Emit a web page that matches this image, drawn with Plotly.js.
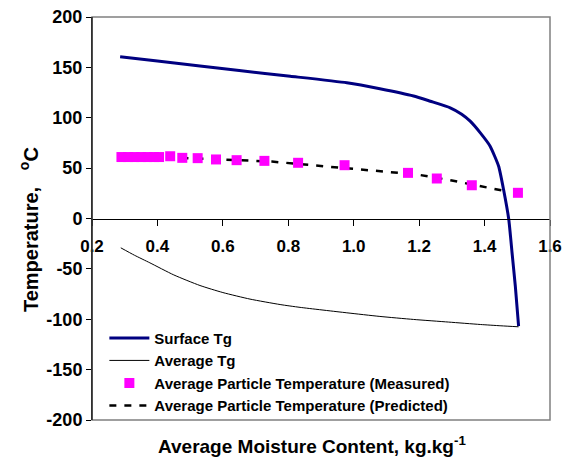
<!DOCTYPE html>
<html>
<head>
<meta charset="utf-8">
<script src="https://cdn.plot.ly/plotly-3.0.1.min.js"></script>
<style>html,body{margin:0;padding:0;background:#fff;}#chart{width:564px;height:459px;}</style>
</head>
<body>
<div id="chart"></div>
<script>
// Surface Tg
const surfX = [0.286, 0.4, 0.53, 0.65, 0.806, 0.979, 1.08, 1.183, 1.234, 1.295, 1.33, 1.356, 1.387, 1.417, 1.443, 1.458, 1.474, 1.484, 1.494, 1.504];
const surfY = [160.5, 156.3, 151.3, 146.8, 141.2, 134.7, 128.8, 121.6, 116.4, 109.9, 103.5, 96.6, 85.0, 71.8, 51.9, 28.8, -1.0, -34.0, -67.2, -106.9];
// Average Tg
const avgX = [0.288, 0.33, 0.377, 0.45, 0.53, 0.6, 0.683, 0.775, 0.836, 0.979, 1.08, 1.183, 1.29, 1.387, 1.45, 1.504];
const avgY = [-29.1, -36.5, -44, -56, -66.5, -73.5, -80.0, -85.4, -88.2, -93.6, -97.2, -100.2, -102.8, -105.2, -106.5, -107.5];
// Measured particle temperature
const measX = [0.29, 0.31, 0.33, 0.35, 0.37, 0.39, 0.405, 0.439, 0.476, 0.523, 0.579, 0.642, 0.727, 0.830, 0.972, 1.166, 1.254, 1.361, 1.502];
const measY = [61, 61, 61, 61, 61, 61, 61, 61.8, 60.2, 59.9, 58.6, 57.9, 57.2, 55.3, 52.9, 45.3, 39.7, 33.0, 25.5];
// Predicted particle temperature
const predX = [0.29, 0.428, 0.6, 0.75, 0.907, 1.05, 1.106, 1.193, 1.3, 1.387, 1.443, 1.47];
const predY = [61, 60.5, 58.5, 56.5, 51.9, 47.9, 46.0, 43.7, 37.7, 32.0, 28.1, 26.8];

const xTicks = [0.2, 0.4, 0.6, 0.8, 1.0, 1.2, 1.4, 1.6];
const xTickText = ['0.2', '0.4', '0.6', '0.8', '1.0', '1.2', '1.4', '1.6'];
const yTicks = [-200, -150, -100, -50, 0, 50, 100, 150, 200];
const yTickText = ['-200', '-150', '-100', '-50', '0', '50', '100', '150', '200'];

const F = 'Liberation Sans, Arial, sans-serif';
const dashPat = '7px,8px';

const traces = [
  {x: surfX, y: surfY, name: 'Surface Tg', mode: 'lines', line: {color: '#000080', width: 3, shape: 'spline', smoothing: 0.5}},
  {x: avgX, y: avgY, name: 'Average Tg', mode: 'lines', line: {color: '#000000', width: 1, shape: 'spline', smoothing: 0.6}},
  {x: predX, y: predY, name: 'Average Particle Temperature (Predicted)', mode: 'lines', line: {color: '#000000', width: 2.5, dash: dashPat}, showlegend: false},
  {x: measX, y: measY, name: 'Average Particle Temperature (Measured)', mode: 'markers', marker: {color: '#FF00FF', symbol: 'square', size: 10}},
  {x: [null], y: [null], name: 'Average Particle Temperature (Predicted)', mode: 'lines', line: {color: '#000000', width: 2.5, dash: dashPat}}
];

const layout = {
  width: 564, height: 459,
  margin: {l: 92, r: 14, t: 17, b: 39},
  paper_bgcolor: '#fff', plot_bgcolor: '#fff',
  font: {family: F, color: '#000'},
  showlegend: true,
  legend: {x: 0.027, y: 0.244, xanchor: 'left', yanchor: 'top', bgcolor: 'rgba(0,0,0,0)',
           font: {family: F, size: 15, color: '#000', weight: 'bold'}, tracegroupgap: 0, itemwidth: 40},
  xaxis: {
    range: [0.2, 1.6], tickvals: xTicks, ticktext: xTickText,
    anchor: 'free', position: 0.5,
    showline: true, linecolor: '#000', linewidth: 1,
    ticks: 'outside', ticklen: 6, tickcolor: '#000', ticklabelstandoff: 6,
    showgrid: false, zeroline: false,
    tickfont: {family: F, size: 17, color: '#000', weight: 'bold'}
  },
  yaxis: {
    range: [-200, 200], tickvals: yTicks, ticktext: yTickText,
    showline: true, linecolor: '#000', linewidth: 1,
    ticks: 'outside', ticklen: 5, tickcolor: '#000',
    showgrid: false, zeroline: false,
    tickfont: {family: F, size: 18, color: '#000', weight: 'bold'},
    title: {text: 'Temperature,&nbsp;&nbsp;&nbsp;<sup>o</sup>C&nbsp;&nbsp;&nbsp;&nbsp;', font: {family: F, size: 20, color: '#000', weight: 'bold'}, standoff: 2}
  },
  shapes: [
    {type: 'rect', xref: 'paper', yref: 'paper', x0: 0, x1: 1, y0: 0, y1: 1, line: {color: '#808080', width: 1.5}},
    {type: 'line', xref: 'paper', yref: 'paper', x0: 0, x1: 0, y0: 0, y1: 1, line: {color: '#000', width: 1}}
  ],
  annotations: [
    {xref: 'paper', yref: 'paper', x: 0.48, y: -0.062, xanchor: 'center', yanchor: 'middle', showarrow: false,
     text: 'Average Moisture Content, kg.kg<sup>-1</sup>', font: {family: F, size: 19, color: '#000', weight: 'bold'}}
  ]
};

Plotly.newPlot('chart', traces, layout, {displayModeBar: false, staticPlot: true});
</script>
</body>
</html>
